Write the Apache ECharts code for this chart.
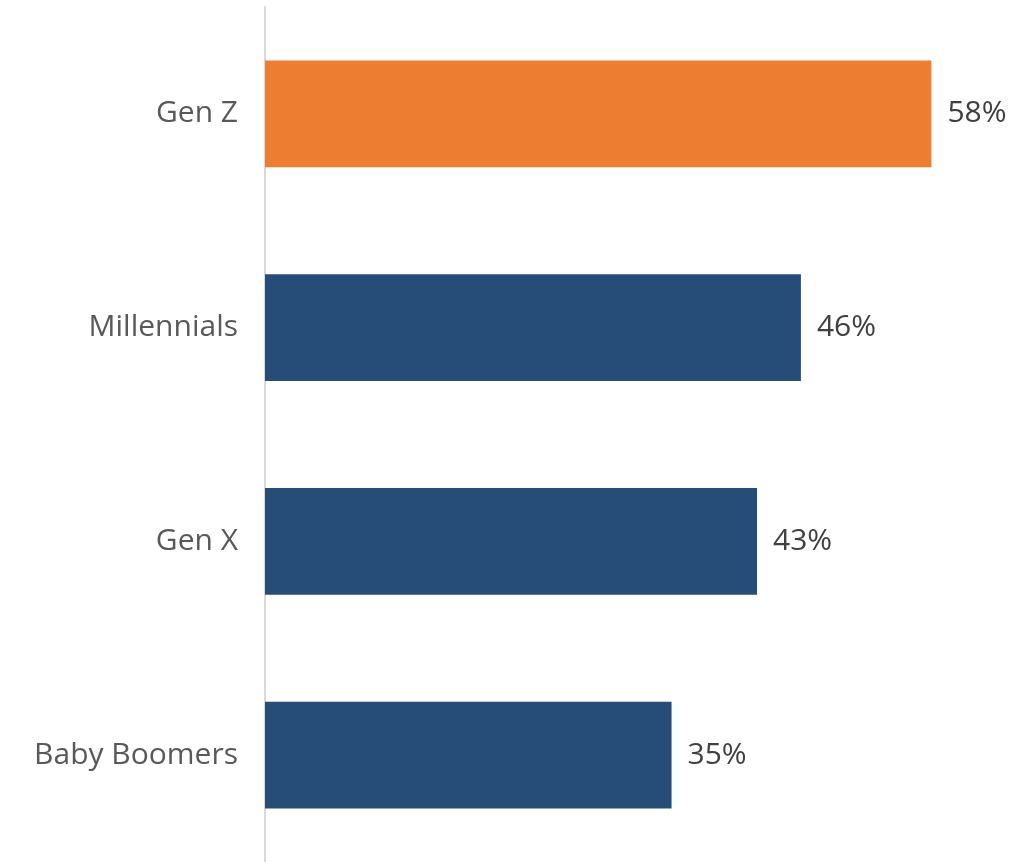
<!DOCTYPE html>
<html><head><meta charset="utf-8">
<script src="https://cdn.jsdelivr.net/npm/echarts@6/dist/echarts.min.js"></script>
<style>html,body{margin:0;padding:0;background:#fff}#c{width:1030px;height:862px}</style>
</head><body><div id="c"></div>
<script>
const categories = ['Gen Z', 'Millennials', 'Gen X', 'Baby Boomers'];
const values = [57.7, 46.4, 42.6, 35.2];
const barColors = ['#ED7D31', '#264D78', '#264D78', '#264D78'];

const chart = echarts.init(document.getElementById('c'));
chart.setOption({
  animation: false,
  grid: { left: 265, right: 72, top: 7, bottom: -1, containLabel: false },
  xAxis: { type: 'value', min: 0, max: 60, show: false },
  yAxis: {
    type: 'category', inverse: true, data: categories,
    axisLine: { show: true, lineStyle: { color: '#d9d9d9', width: 2 } },
    axisTick: { show: false },
    axisLabel: { margin: 27, color: '#595959', fontSize: 30, fontFamily: 'Open Sans' }
  },
  series: [{
    type: 'bar', barWidth: '50%',
    data: values.map((v, i) => ({ value: v, itemStyle: { color: barColors[i] } })),
    label: { show: true, position: 'right', distance: 16, formatter: p => Math.round(p.value) + '%', color: '#404040', fontSize: 30, fontFamily: 'Open Sans' }
  }]
});
</script></body></html>
